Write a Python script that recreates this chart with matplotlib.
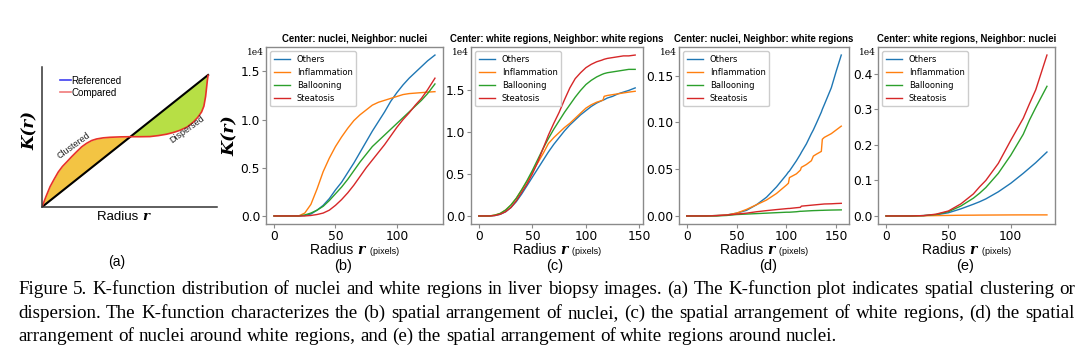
import numpy as np
import matplotlib
matplotlib.use('Agg')
import matplotlib.pyplot as plt
from matplotlib.lines import Line2D
from matplotlib.offsetbox import TextArea, HPacker, AnchoredOffsetbox
from matplotlib.ticker import FormatStrFormatter

# ---- (a) schematic ----
ref_x = [0, 0.949]
ref_k = [0, 0.943]
sk_x = [0, 0.023, 0.046, 0.07, 0.093, 0.117, 0.14, 0.17, 0.198, 0.227, 0.255, 0.284, 0.312, 0.35, 0.389,
        0.45, 0.503, 0.56, 0.617, 0.665, 0.712, 0.75, 0.789, 0.83, 0.865, 0.89, 0.912, 0.925, 0.935, 0.945, 0.949]
sk_k = [0, 0.075, 0.145, 0.2, 0.25, 0.29, 0.32, 0.36, 0.395, 0.43, 0.455, 0.475, 0.486, 0.494, 0.498,
        0.501, 0.502, 0.502, 0.503, 0.51, 0.52, 0.532, 0.548, 0.572, 0.607, 0.64, 0.679, 0.72, 0.79, 0.905, 0.94]

classes = ['Others', 'Inflammation', 'Ballooning', 'Steatosis']
colors = ['#1f77b4', '#ff7f0e', '#2ca02c', '#d62728']

# ---- (b) nuclei / nuclei, K in units of 1e4 ----
r_b = [0, 10, 20, 25, 30, 35, 40, 45, 50, 55, 60, 65, 70, 75, 80, 85, 90, 95, 100, 105, 110, 115, 120, 125, 131]
others_b = [0, 0, 0, 0.005, 0.02, 0.06, 0.11, 0.18, 0.27, 0.35, 0.45, 0.55, 0.66, 0.77, 0.88, 0.98, 1.08, 1.19,
            1.28, 1.36, 1.43, 1.49, 1.55, 1.61, 1.67]
infl_b = [0, 0, 0, 0.03, 0.12, 0.28, 0.46, 0.6, 0.72, 0.82, 0.91, 0.99, 1.05, 1.1, 1.15, 1.18, 1.2, 1.22,
          1.24, 1.26, 1.27, 1.275, 1.28, 1.285, 1.29]
ball_b = [0, 0, 0, 0.01, 0.03, 0.06, 0.1, 0.16, 0.23, 0.3, 0.38, 0.47, 0.56, 0.64, 0.72, 0.78, 0.84, 0.9,
          0.96, 1.02, 1.08, 1.14, 1.2, 1.27, 1.37]
stea_b = [0, 0, 0, 0, 0.005, 0.015, 0.03, 0.06, 0.11, 0.17, 0.24, 0.32, 0.41, 0.5, 0.58, 0.66, 0.74, 0.83,
          0.92, 1.0, 1.07, 1.15, 1.22, 1.31, 1.43]

# ---- (c) white / white ----
r_c = [0, 10, 15, 20, 25, 30, 35, 40, 45, 50, 55, 60, 65, 70, 75, 80, 85, 90, 95, 100, 105, 110, 115, 116,
       117, 120, 125, 130, 135, 140, 146]
others_c = [0, 0, 0.005, 0.02, 0.05, 0.1, 0.17, 0.26, 0.36, 0.46, 0.56, 0.66, 0.76, 0.85, 0.93, 1.01, 1.08,
            1.14, 1.2, 1.25, 1.3, 1.34, 1.37, 1.375, 1.38, 1.4, 1.42, 1.45, 1.47, 1.49, 1.52]
infl_c = [0, 0, 0.01, 0.03, 0.07, 0.13, 0.21, 0.31, 0.41, 0.52, 0.63, 0.74, 0.86, 0.93, 0.99, 1.05, 1.1,
          1.16, 1.22, 1.28, 1.32, 1.35, 1.37, 1.375, 1.42, 1.43, 1.44, 1.45, 1.46, 1.47, 1.48]
ball_c = [0, 0, 0.01, 0.03, 0.07, 0.13, 0.21, 0.31, 0.42, 0.54, 0.67, 0.8, 0.92, 1.03, 1.13, 1.23, 1.32,
          1.41, 1.49, 1.56, 1.61, 1.65, 1.68, 1.685, 1.69, 1.7, 1.71, 1.72, 1.73, 1.74, 1.74]
stea_c = [0, 0, 0.005, 0.02, 0.05, 0.1, 0.18, 0.28, 0.38, 0.5, 0.64, 0.8, 0.96, 1.1, 1.23, 1.38, 1.52,
          1.63, 1.7, 1.76, 1.8, 1.83, 1.85, 1.855, 1.86, 1.87, 1.88, 1.89, 1.9, 1.9, 1.91]

# ---- (d) nuclei around white ----
r_d = [0, 10, 20, 30, 40, 50, 60, 70, 80, 90, 100, 102, 103, 110, 114, 115, 120, 125, 127, 130, 135, 136,
       138, 145, 150, 155]
others_d = [0, 0, 0, 0.0005, 0.001, 0.003, 0.006, 0.012, 0.02, 0.031, 0.044, 0.047, 0.048, 0.059, 0.066,
            0.068, 0.077, 0.088, 0.092, 0.099, 0.111, 0.114, 0.119, 0.137, 0.155, 0.172]
infl_d = [0, 0, 0, 0.0005, 0.001, 0.003, 0.007, 0.012, 0.017, 0.024, 0.033, 0.035, 0.041, 0.045, 0.049,
          0.052, 0.055, 0.059, 0.064, 0.066, 0.069, 0.082, 0.084, 0.088, 0.092, 0.096]
ball_d = [0, 0, 0, 0, 0.0005, 0.0015, 0.002, 0.0025, 0.003, 0.0035, 0.004, 0.004, 0.004, 0.0045, 0.005,
          0.005, 0.0053, 0.0056, 0.0057, 0.0058, 0.006, 0.006, 0.0061, 0.0063, 0.0064, 0.0065]
stea_d = [0, 0, 0, 0.0003, 0.001, 0.002, 0.003, 0.0045, 0.0057, 0.0068, 0.0078, 0.008, 0.008, 0.0088,
          0.0092, 0.0105, 0.011, 0.0115, 0.0117, 0.012, 0.0125, 0.0126, 0.0128, 0.013, 0.0133, 0.0135]

# ---- (e) white around nuclei ----
r_e = [0, 10, 20, 30, 40, 50, 60, 70, 75, 80, 90, 100, 110, 115, 120, 129]
others_e = [0, 0, 0, 0.001, 0.003, 0.009, 0.02, 0.033, 0.04, 0.048, 0.068, 0.092, 0.12, 0.135, 0.15, 0.18]
infl_e = [0, 0, 0, 0.0005, 0.001, 0.0015, 0.002, 0.0022, 0.0024, 0.0025, 0.0027, 0.0029, 0.003, 0.003,
          0.003, 0.003]
ball_e = [0, 0, 0, 0.001, 0.004, 0.012, 0.028, 0.05, 0.064, 0.08, 0.12, 0.171, 0.23, 0.27, 0.305, 0.365]
stea_e = [0, 0, 0, 0.001, 0.005, 0.014, 0.034, 0.062, 0.082, 0.1, 0.148, 0.213, 0.275, 0.316, 0.355, 0.453]

caption = [
    'Figure 5. K-function distribution of nuclei and white regions in liver biopsy images. (a) The K-function plot indicates spatial clustering or',
    'dispersion. The K-function characterizes the (b) spatial arrangement of nuclei, (c) the spatial arrangement of white regions, (d) the spatial',
    'arrangement of nuclei around white regions, and (e) the spatial arrangement of white regions around nuclei.',
]

W, H = 1080, 356
fig = plt.figure(figsize=(W / 100, H / 100), dpi=100)
sans = 'Liberation Sans'
kfont = dict(family='DejaVu Serif', style='italic', weight='bold')


def rect(l, t, r, b):
    return [l / W, 1 - b / H, (r - l) / W, (b - t) / H]


def radius_label(ax, x, y, size, pixels=True):
    parts = [TextArea('Radius ', textprops=dict(family=sans, size=size)),
             TextArea('r', textprops=dict(size=size, **kfont))]
    if pixels:
        parts.append(TextArea('  (pixels)', textprops=dict(family=sans, size=size * 0.65)))
    box = HPacker(children=parts, align='baseline', pad=0, sep=0)
    ab = AnchoredOffsetbox(loc='upper center', child=box, pad=0, borderpad=0, frameon=False,
                           bbox_to_anchor=(x, y), bbox_transform=ax.transAxes)
    ax.add_artist(ab)


# panel (a)
axa = fig.add_axes(rect(42, 67, 217, 207))
axa.set_xlim(0, 1)
axa.set_ylim(0, 1)
sx = np.array(sk_x)
sk = np.array(sk_k)
ref_on_sk = np.interp(sx, ref_x, ref_k)
axa.fill_between(sx, sk, ref_on_sk, where=sk >= ref_on_sk, interpolate=True, color='#f3c443', lw=0)
axa.fill_between(sx, sk, ref_on_sk, where=sk <= ref_on_sk, interpolate=True, color='#b7df45', lw=0)
axa.plot(ref_x, ref_k, color='black', lw=1.5)
axa.plot(sk_x, sk_k, color='#e8322a', lw=1.2)
for s in ['top', 'right']:
    axa.spines[s].set_visible(False)
for s in ['left', 'bottom']:
    axa.spines[s].set_color('#333333')
    axa.spines[s].set_linewidth(1.1)
axa.set_xticks([])
axa.set_yticks([])
axa.legend([Line2D([], [], color='#4040f0', lw=1.2), Line2D([], [], color='#f07a7a', lw=1.2)],
           ['Referenced', 'Compared'], loc='upper left', bbox_to_anchor=(0.05, 1.0), frameon=False,
           handlelength=1.2, handletextpad=0.0, labelspacing=0.2, prop=dict(family=sans, size=7))
axa.text(0.183, 0.44, 'Clustered', rotation=36, ha='center', va='center', family=sans, size=6.5, color='#222222')
axa.text(0.83, 0.552, 'Dispersed', rotation=36, ha='center', va='center', family=sans, size=6.5, color='#222222')
radius_label(axa, 0.463, -0.02, 9.5, pixels=False)
fig.text(30 / W, 1 - 130 / H, 'K(r)', rotation=90, ha='center', va='center', size=12, **kfont)
fig.text(117 / W, 1 - 262 / H, '(a)', ha='center', va='center', family=sans, size=10)

panels = [
    ((266, 47, 443, 224), 'Center: nuclei, Neighbor: nuclei', r_b,
     [others_b, infl_b, ball_b, stea_b], [0, 0.5, 1.0, 1.5], '%.1f', [0, 50, 100], '(b)', 343),
    ((471, 47, 643, 224), 'Center: white regions, Neighbor: white regions', r_c,
     [others_c, infl_c, ball_c, stea_c], [0, 0.5, 1.0, 1.5], '%.1f', [0, 50, 100, 150], '(c)', 555),
    ((679, 47, 849, 224), 'Center: nuclei, Neighbor: white regions', r_d,
     [others_d, infl_d, ball_d, stea_d], [0, 0.05, 0.10, 0.15], '%.2f', [0, 50, 100, 150], '(d)', 768),
    ((878, 47, 1055, 224), 'Center: white regions, Neighbor: nuclei', r_e,
     [others_e, infl_e, ball_e, stea_e], [0, 0.1, 0.2, 0.3, 0.4], '%.1f', [0, 50, 100], '(e)', 965),
]

for i, (box, title, r, series, yt, fmt, xt, lab, lab_x) in enumerate(panels):
    ax = fig.add_axes(rect(*box))
    for name, vals, c in zip(classes, series, colors):
        ax.plot(r, vals, color=c, lw=1.0, label=name)
    ax.set_yticks(yt)
    ax.set_xticks(xt)
    ax.yaxis.set_major_formatter(FormatStrFormatter(fmt))
    ax.tick_params(labelsize=8.8, length=3, width=0.8, pad=1.2, color='#8a8a8a')
    for s in ax.spines.values():
        s.set_color('#8a8a8a')
        s.set_linewidth(1.0)
    ax.set_title(title, family=sans, weight='bold', size=6.9, pad=3.5)
    ax.legend(loc='upper left', fontsize=6, edgecolor='#cccccc', framealpha=1)
    ax.text(-0.01, 0.97, '1e4', transform=ax.transAxes, ha='right', va='center',
            family='DejaVu Serif', size=6.5)
    radius_label(ax, 0.5, -0.11, 10)
    fig.text(lab_x / W, 1 - 266 / H, lab, ha='center', va='center', family=sans, size=10.5)
    if i == 0:
        ax.set_ylabel('K(r)', size=12.5, labelpad=1, **kfont)

# caption, justified like the paper
rend = fig.canvas.get_renderer()
probe = fig.text(0, 0, caption[2], family='Liberation Serif', size=12)
cap_size = 12 * 817 / probe.get_window_extent(rend).width
probe.remove()
space_w = 0.25 * cap_size * 100 / 72
left, right = 18, 1075
for line, base_y, justify in zip(caption, [294, 318, 341], [True, True, False]):
    words = line.split(' ')
    objs = [fig.text(0, 1 - base_y / H, w, family='Liberation Serif', size=cap_size, va='baseline')
            for w in words]
    widths = [o.get_window_extent(rend).width for o in objs]
    gap = (right - left - sum(widths)) / (len(words) - 1) if justify else space_w
    x = left
    for o, w in zip(objs, widths):
        o.set_x(x / W)
        x += w + gap

fig.savefig('out.png', dpi=100)
